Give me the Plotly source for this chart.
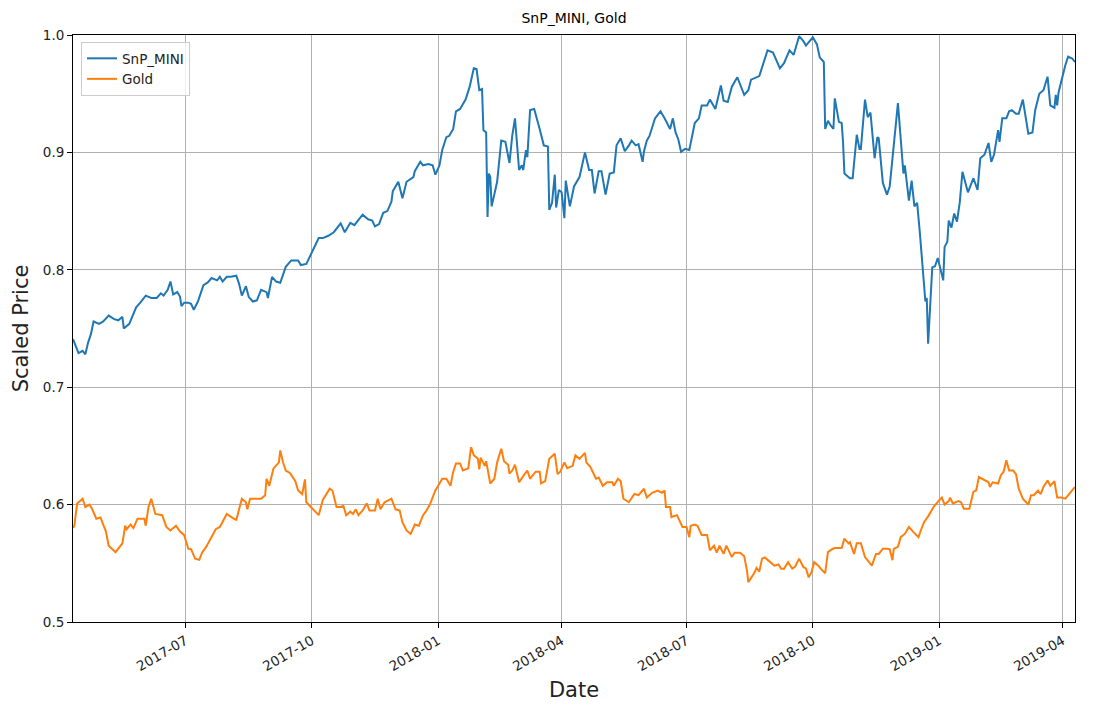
import plotly.graph_objects as go

snp_dates = [
"2017-04-10","2017-04-12","2017-04-14","2017-04-17","2017-04-19","2017-04-21","2017-04-23","2017-04-25","2017-04-29","2017-05-02",
"2017-05-06","2017-05-10","2017-05-13","2017-05-16","2017-05-17","2017-05-21","2017-05-26","2017-05-29","2017-06-02","2017-06-06",
"2017-06-10","2017-06-13","2017-06-15","2017-06-18","2017-06-20","2017-06-22","2017-06-25","2017-06-27","2017-06-28","2017-06-30",
"2017-07-03","2017-07-05","2017-07-07","2017-07-10","2017-07-14","2017-07-17","2017-07-20","2017-07-24","2017-07-26","2017-07-28",
"2017-07-31","2017-08-03","2017-08-07","2017-08-09","2017-08-11","2017-08-14","2017-08-16","2017-08-19","2017-08-22","2017-08-25",
"2017-08-27","2017-08-29","2017-08-30","2017-09-02","2017-09-05","2017-09-08","2017-09-12","2017-09-16","2017-09-21","2017-09-23",
"2017-09-27","2017-10-01","2017-10-06","2017-10-09","2017-10-13","2017-10-17","2017-10-22","2017-10-25","2017-10-29","2017-11-01",
"2017-11-04","2017-11-07","2017-11-11","2017-11-14","2017-11-16","2017-11-19","2017-11-22","2017-11-25","2017-11-28","2017-11-29",
"2017-12-03","2017-12-06","2017-12-09","2017-12-12","2017-12-14","2017-12-15","2017-12-19","2017-12-21","2017-12-25","2017-12-28",
"2017-12-30","2018-01-02","2018-01-04","2018-01-07","2018-01-09","2018-01-12","2018-01-14","2018-01-17","2018-01-19","2018-01-21",
"2018-01-24","2018-01-27","2018-01-29","2018-01-31","2018-02-02","2018-02-03","2018-02-05","2018-02-06","2018-02-07","2018-02-08",
"2018-02-09","2018-02-11","2018-02-13","2018-02-16","2018-02-19","2018-02-22","2018-02-24","2018-02-26","2018-02-27","2018-03-01",
"2018-03-03","2018-03-04","2018-03-06","2018-03-07","2018-03-09","2018-03-12","2018-03-16","2018-03-19","2018-03-22","2018-03-23",
"2018-03-25","2018-03-27","2018-03-28","2018-03-30","2018-04-01","2018-04-03","2018-04-04","2018-04-07","2018-04-10","2018-04-14",
"2018-04-18","2018-04-21","2018-04-23","2018-04-25","2018-04-28","2018-04-30","2018-05-03","2018-05-06","2018-05-09","2018-05-11",
"2018-05-14","2018-05-17","2018-05-20","2018-05-22","2018-05-25","2018-05-27","2018-05-30","2018-05-31","2018-06-02","2018-06-04",
"2018-06-08","2018-06-12","2018-06-15","2018-06-19","2018-06-21","2018-06-23","2018-06-25","2018-06-27","2018-06-30","2018-07-03",
"2018-07-07","2018-07-10","2018-07-12","2018-07-16","2018-07-18","2018-07-21","2018-07-22","2018-07-26","2018-07-28","2018-07-31",
"2018-08-03","2018-08-07","2018-08-12","2018-08-15","2018-08-17","2018-08-23","2018-08-25","2018-08-29","2018-09-02","2018-09-07",
"2018-09-10","2018-09-14","2018-09-17","2018-09-21","2018-09-24","2018-09-26","2018-10-01","2018-10-04","2018-10-06","2018-10-09",
"2018-10-10","2018-10-12","2018-10-14","2018-10-16","2018-10-17","2018-10-20","2018-10-22","2018-10-23","2018-10-24","2018-10-28",
"2018-10-30","2018-11-02","2018-11-04","2018-11-05","2018-11-08","2018-11-10","2018-11-12","2018-11-15","2018-11-17","2018-11-18",
"2018-11-21","2018-11-24","2018-11-26","2018-11-29","2018-12-02","2018-12-06","2018-12-07","2018-12-10","2018-12-12","2018-12-14",
"2018-12-16","2018-12-18","2018-12-20","2018-12-22","2018-12-23","2018-12-24","2018-12-27","2018-12-29","2018-12-31","2019-01-04",
"2019-01-05","2019-01-07","2019-01-08","2019-01-10","2019-01-12","2019-01-14","2019-01-16","2019-01-18","2019-01-22","2019-01-26",
"2019-01-29","2019-01-31","2019-02-03","2019-02-06","2019-02-08","2019-02-10","2019-02-13","2019-02-14","2019-02-16","2019-02-19",
"2019-02-21","2019-02-23","2019-02-26","2019-02-28","2019-03-03","2019-03-07","2019-03-10","2019-03-12","2019-03-15","2019-03-18",
"2019-03-21","2019-03-23","2019-03-26","2019-03-27","2019-03-28","2019-03-29","2019-04-03","2019-04-05","2019-04-08","2019-04-10",
]
snp_values = [
0.741,0.735,0.729,0.731,0.728,0.738,0.745,0.756,0.754,0.756,
0.761,0.758,0.757,0.760,0.750,0.754,0.768,0.772,0.778,0.776,
0.776,0.780,0.778,0.783,0.790,0.779,0.781,0.777,0.769,0.772,
0.772,0.771,0.766,0.773,0.787,0.789,0.793,0.791,0.794,0.790,
0.794,0.794,0.795,0.788,0.778,0.786,0.777,0.773,0.774,0.783,
0.782,0.781,0.776,0.794,0.790,0.789,0.8025,0.808,0.808,0.804,
0.805,0.815,0.827,0.827,0.829,0.832,0.8395,0.832,0.840,0.838,
0.843,0.847,0.843,0.842,0.837,0.839,0.8485,0.850,0.858,0.867,
0.875,0.861,0.875,0.877,0.879,0.884,0.892,0.889,0.890,0.889,
0.881,0.889,0.902,0.913,0.914,0.920,0.935,0.937,0.941,0.945,
0.956,0.9716,0.971,0.953,0.954,0.919,0.917,0.845,0.882,0.879,
0.854,0.866,0.875,0.910,0.909,0.891,0.914,0.929,0.916,0.885,
0.889,0.885,0.902,0.896,0.936,0.937,0.920,0.906,0.905,0.851,
0.857,0.881,0.853,0.868,0.866,0.844,0.876,0.854,0.871,0.879,
0.900,0.885,0.885,0.865,0.884,0.884,0.864,0.882,0.883,0.906,
0.912,0.901,0.906,0.910,0.906,0.907,0.892,0.901,0.910,0.914,
0.929,0.935,0.929,0.920,0.929,0.917,0.911,0.9005,0.903,0.902,
0.925,0.929,0.940,0.940,0.945,0.939,0.937,0.957,0.944,0.943,
0.956,0.964,0.949,0.953,0.962,0.965,0.973,0.987,0.985,0.9716,
0.976,0.987,0.983,0.999,0.995,0.991,0.998,0.992,0.981,0.977,
0.920,0.927,0.923,0.920,0.946,0.926,0.925,0.909,0.882,0.878,
0.878,0.915,0.903,0.903,0.945,0.930,0.934,0.895,0.913,0.912,
0.874,0.864,0.871,0.910,0.942,0.882,0.889,0.859,0.876,0.854,
0.857,0.831,0.801,0.773,0.776,0.737,0.802,0.803,0.810,0.791,
0.8195,0.824,0.842,0.836,0.848,0.841,0.857,0.8835,0.866,0.878,
0.868,0.895,0.898,0.908,0.892,0.898,0.919,0.909,0.929,0.929,
0.935,0.936,0.933,0.933,0.945,0.916,0.917,0.936,0.950,0.953,
0.9645,0.940,0.938,0.949,0.940,0.951,0.9744,0.9815,0.980,0.977,
]

gold_dates = [
"2017-04-10","2017-04-11","2017-04-13","2017-04-17","2017-04-19","2017-04-22","2017-04-24","2017-04-27","2017-04-30","2017-05-04",
"2017-05-06","2017-05-09","2017-05-11","2017-05-16","2017-05-18","2017-05-19","2017-05-22","2017-05-24","2017-05-27","2017-06-01",
"2017-06-02","2017-06-04","2017-06-06","2017-06-09","2017-06-14","2017-06-17","2017-06-20","2017-06-24","2017-06-27","2017-06-30",
"2017-07-03","2017-07-05","2017-07-08","2017-07-11","2017-07-13","2017-07-16","2017-07-19","2017-07-23","2017-07-26","2017-07-31",
"2017-08-05","2017-08-07","2017-08-11","2017-08-14","2017-08-15","2017-08-17","2017-08-25","2017-08-28","2017-08-29","2017-08-31",
"2017-09-03","2017-09-07","2017-09-08","2017-09-10","2017-09-12","2017-09-15","2017-09-19","2017-09-21","2017-09-24","2017-09-26",
"2017-09-27","2017-10-01","2017-10-06","2017-10-09","2017-10-11","2017-10-14","2017-10-16","2017-10-19","2017-10-22","2017-10-24",
"2017-10-26","2017-10-29","2017-10-31","2017-11-02","2017-11-04","2017-11-07","2017-11-10","2017-11-12","2017-11-16","2017-11-18",
"2017-11-20","2017-11-23","2017-11-28","2017-12-01","2017-12-04","2017-12-06","2017-12-09","2017-12-12","2017-12-15","2017-12-18",
"2017-12-21","2017-12-23","2017-12-26","2017-12-30","2018-01-02","2018-01-04","2018-01-07","2018-01-10","2018-01-12","2018-01-14",
"2018-01-17","2018-01-19","2018-01-23","2018-01-25","2018-01-27","2018-01-30","2018-01-31","2018-02-01","2018-02-04","2018-02-05",
"2018-02-08","2018-02-11","2018-02-13","2018-02-16","2018-02-18","2018-02-21","2018-02-22","2018-02-24","2018-02-26","2018-03-01",
"2018-03-05","2018-03-07","2018-03-09","2018-03-11","2018-03-13","2018-03-16","2018-03-17","2018-03-20","2018-03-23","2018-03-27",
"2018-03-29","2018-03-31","2018-04-03","2018-04-05","2018-04-09","2018-04-11","2018-04-14","2018-04-18","2018-04-19","2018-04-22",
"2018-04-26","2018-04-28","2018-05-01","2018-05-04","2018-05-08","2018-05-09","2018-05-12","2018-05-14","2018-05-16","2018-05-20",
"2018-05-24","2018-05-27","2018-05-31","2018-06-02","2018-06-06","2018-06-10","2018-06-13","2018-06-15","2018-06-16","2018-06-19",
"2018-06-20","2018-06-24","2018-06-28","2018-07-01","2018-07-03","2018-07-04","2018-07-07","2018-07-09","2018-07-12","2018-07-16",
"2018-07-18","2018-07-21","2018-07-23","2018-07-25","2018-07-28","2018-07-30","2018-08-02","2018-08-03","2018-08-05","2018-08-09",
"2018-08-12","2018-08-14","2018-08-15","2018-08-19","2018-08-21","2018-08-23","2018-08-25","2018-08-27","2018-08-31","2018-09-03",
"2018-09-06","2018-09-08","2018-09-10","2018-09-13","2018-09-16","2018-09-18","2018-09-21","2018-09-24","2018-09-26","2018-09-28",
"2018-09-30","2018-10-02","2018-10-05","2018-10-07","2018-10-10","2018-10-12","2018-10-15","2018-10-17","2018-10-22","2018-10-24",
"2018-10-27","2018-10-28","2018-10-31","2018-11-02","2018-11-05","2018-11-08","2018-11-13","2018-11-16","2018-11-18","2018-11-21",
"2018-11-24","2018-11-26","2018-11-28","2018-11-29","2018-12-02","2018-12-04","2018-12-07","2018-12-10","2018-12-13","2018-12-17",
"2018-12-19","2018-12-21","2018-12-24","2018-12-26","2018-12-28","2019-01-01","2019-01-03","2019-01-05","2019-01-08","2019-01-09",
"2019-01-11","2019-01-15","2019-01-17","2019-01-19","2019-01-23","2019-01-26","2019-01-28","2019-01-30","2019-02-03","2019-02-06",
"2019-02-07","2019-02-09","2019-02-13","2019-02-15","2019-02-17","2019-02-19","2019-02-21","2019-02-24","2019-02-26","2019-02-28",
"2019-03-03","2019-03-07","2019-03-09","2019-03-11","2019-03-14","2019-03-16","2019-03-18","2019-03-21","2019-03-23","2019-03-26",
"2019-03-28","2019-03-31","2019-04-03","2019-04-05","2019-04-09","2019-04-10",
]
gold_values = [
0.580,0.582,0.601,0.605,0.598,0.600,0.596,0.588,0.589,0.577,
0.565,0.562,0.5595,0.567,0.582,0.579,0.583,0.580,0.588,0.588,
0.582,0.598,0.605,0.592,0.591,0.581,0.578,0.582,0.577,0.574,
0.5624,0.562,0.554,0.553,0.559,0.564,0.571,0.579,0.581,0.592,
0.588,0.587,0.605,0.602,0.596,0.605,0.605,0.608,0.622,0.616,
0.6306,0.636,0.6462,0.636,0.629,0.627,0.620,0.612,0.609,0.6215,
0.602,0.597,0.591,0.604,0.608,0.6135,0.612,0.598,0.598,0.599,
0.591,0.594,0.592,0.596,0.591,0.595,0.601,0.595,0.595,0.605,
0.596,0.602,0.605,0.596,0.595,0.585,0.578,0.575,0.583,0.582,
0.591,0.594,0.600,0.612,0.618,0.622,0.622,0.616,0.628,0.635,
0.635,0.629,0.631,0.649,0.642,0.639,0.630,0.640,0.633,0.637,
0.618,0.622,0.636,0.6476,0.637,0.634,0.6263,0.629,0.634,0.619,
0.626,0.629,0.622,0.625,0.628,0.628,0.618,0.620,0.639,0.6434,
0.626,0.628,0.636,0.631,0.633,0.642,0.639,0.644,0.636,0.632,
0.622,0.623,0.616,0.619,0.619,0.616,0.622,0.620,0.605,0.602,
0.609,0.608,0.6135,0.606,0.610,0.612,0.610,0.612,0.598,0.598,
0.5894,0.591,0.581,0.581,0.5723,0.582,0.583,0.582,0.574,0.574,
0.561,0.565,0.559,0.565,0.558,0.565,0.558,0.5553,0.559,0.559,
0.556,0.544,0.534,0.541,0.546,0.543,0.554,0.555,0.551,0.548,
0.549,0.5454,0.5454,0.551,0.5454,0.547,0.554,0.547,0.5454,0.538,
0.5425,0.551,0.548,0.545,0.5416,0.5595,0.562,0.563,0.563,0.571,
0.567,0.568,0.558,0.567,0.567,0.5553,0.548,0.558,0.558,0.5624,
0.5624,0.562,0.5526,0.5624,0.564,0.5723,0.575,0.581,0.577,0.5723,
0.579,0.585,0.590,0.594,0.598,0.6036,0.606,0.600,0.603,0.606,
0.601,0.603,0.602,0.5965,0.5965,0.611,0.612,0.6235,0.621,0.619,
0.615,0.619,0.618,0.625,0.628,0.6377,0.629,0.629,0.626,0.6135,
0.605,0.600,0.608,0.608,0.612,0.609,0.615,0.6206,0.616,0.620,
0.606,0.606,0.605,0.608,0.6135,0.615,
]

x_tick_dates = ["2017-07-01","2017-10-01","2018-01-01","2018-04-01","2018-07-01","2018-10-01","2019-01-01","2019-04-01"]
x_tick_labels = ["2017-07","2017-10","2018-01","2018-04","2018-07","2018-10","2019-01","2019-04"]
y_ticks = [0.5, 0.6, 0.7, 0.8, 0.9, 1.0]

FONT = "DejaVu Sans, Liberation Sans, sans-serif"

fig = go.Figure()
fig.add_trace(go.Scatter(x=snp_dates, y=snp_values, mode="lines", name="SnP_MINI",
                         line=dict(color="#1f77b4", width=2)))
fig.add_trace(go.Scatter(x=gold_dates, y=gold_values, mode="lines", name="Gold",
                         line=dict(color="#ff7f0e", width=2)))

axis_common = dict(
    showline=True, linecolor="black", linewidth=1, mirror=True,
    ticks="outside", ticklen=5, tickcolor="black", tickwidth=1,
    showgrid=True, gridcolor="#b0b0b0", gridwidth=1, zeroline=False,
    tickfont=dict(family=FONT, size=13.5, color="#222222"),
)

# the page body adds an 8px offset; figure sized to sit inside the 1101x712 window
fig.update_layout(
    width=1093, height=704, autosize=False,
    margin=dict(l=61, r=26, t=27, b=90),
    paper_bgcolor="white", plot_bgcolor="white",
    font=dict(family=FONT, color="black"),
    title=dict(text="SnP_MINI, Gold", x=0.5, xref="paper", xanchor="center",
               y=1 - 10 / 704, yref="container", yanchor="middle",
               font=dict(family=FONT, size=14, color="black")),
    xaxis=dict(axis_common, type="date", range=["2017-04-10", "2019-04-10"],
               tickvals=x_tick_dates, ticktext=x_tick_labels, tickangle=-30,
               title=dict(text="Date", font=dict(family=FONT, size=21, color="#222222"), standoff=9)),
    yaxis=dict(axis_common, range=[0.5, 1.0], tickvals=y_ticks, tickformat=".1f",
               title=dict(text="Scaled Price", font=dict(family=FONT, size=21, color="#222222"), standoff=8)),
    legend=dict(x=0.008, y=0.988, xanchor="left", yanchor="top",
                bgcolor="rgba(255,255,255,0.8)", bordercolor="#cccccc", borderwidth=1,
                font=dict(family=FONT, size=13.5, color="#222222"), tracegroupgap=2),
    showlegend=True,
)

fig.write_html("out.html")
